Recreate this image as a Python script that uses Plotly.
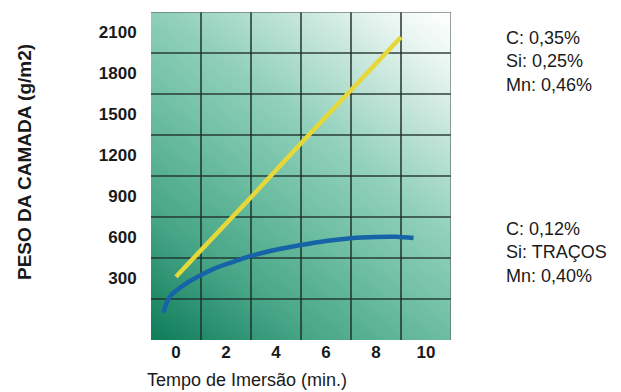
import numpy as np
import plotly.graph_objects as go

# ---- data ----
x_ticks = [0, 2, 4, 6, 8, 10]
y_ticks = [300, 600, 900, 1200, 1500, 1800, 2100]

yellow_t = [0, 1, 3, 5, 7, 9]
yellow_w = [313, 505, 895, 1290, 1680, 2067]

blue_t = [-0.5, -0.25, 0.3, 1.0, 1.6, 2.3, 3.0, 4.0, 5.0, 6.0, 7.0, 8.0, 8.8, 9.5]
blue_w = [50, 165, 250, 325, 378, 422, 465, 510, 545, 575, 595, 604, 605, 596]

label_high = ["C: 0,35%", "Si: 0,25%", "Mn: 0,46%"]
label_low = ["C: 0,12%", "Si: TRAÇOS", "Mn: 0,40%"]

x_title = "Tempo de Imersão (min.)"
y_title = "PESO DA CAMADA (g/m2)"

# ---- axes extents: grid cells centred on the ticks ----
x_step = x_ticks[1] - x_ticks[0]
y_step = y_ticks[1] - y_ticks[0]
x_min, x_max = x_ticks[0] - x_step / 2, x_ticks[-1] + x_step / 2
y_min, y_max = y_ticks[0] - 1.5 * y_step, y_ticks[-1] + y_step / 2

FONT = "Liberation Sans, Arial, sans-serif"

fig = go.Figure()

# background gradient (dark green bottom-left -> white top-right)
gx = np.linspace(x_min, x_max, 25)
gy = np.linspace(y_min, y_max, 25)
U, V = np.meshgrid((gx - x_min) / (x_max - x_min), (gy - y_min) / (y_max - y_min))
Z = 0.42 * U + 0.58 * V
fig.add_trace(go.Heatmap(
    x=gx, y=gy, z=Z, zsmooth="best", showscale=False, hoverinfo="skip",
    zmin=0, zmax=1,
    colorscale=[[0.0, "rgb(14,124,90)"], [0.22, "rgb(70,165,134)"],
                [0.45, "rgb(115,193,166)"], [0.6, "rgb(145,208,188)"],
                [0.78, "rgb(198,230,219)"], [0.9, "rgb(234,246,241)"],
                [1.0, "rgb(255,255,255)"]],
))

# grid lines at cell boundaries
vx = [x_min + x_step * i for i in range(len(x_ticks) + 1)]
hy = [y_min + y_step * i for i in range(len(y_ticks) + 2)]
gxs, gys = [], []
for v in vx[1:-1]:
    gxs += [v, v, None]
    gys += [y_min, y_max, None]
for h in hy[1:-1]:
    gxs += [x_min, x_max, None]
    gys += [h, h, None]
fig.add_trace(go.Scatter(x=gxs, y=gys, mode="lines", hoverinfo="skip",
                         line=dict(color="rgba(30,45,40,0.9)", width=1.6), showlegend=False))
# top and right borders
fig.add_trace(go.Scatter(x=[x_min, x_max, x_max], y=[y_max, y_max, y_min], mode="lines",
                         hoverinfo="skip", line=dict(color="rgba(90,100,100,0.8)", width=1.5),
                         showlegend=False))

# data
fig.add_trace(go.Scatter(x=yellow_t, y=yellow_w, mode="lines",
                         line=dict(color="#e6d838", width=4.5), showlegend=False))
fig.add_trace(go.Scatter(x=blue_t, y=blue_w, mode="lines", line_shape="spline",
                         line=dict(color="#1763a8", width=4.5, smoothing=1.0), showlegend=False))

fig.update_xaxes(range=[x_min, x_max], tickvals=x_ticks, showgrid=False, zeroline=False,
                 showline=False, ticks="", 
                 tickfont=dict(family=FONT, size=17, color="#1a1a1a", weight="bold"))
fig.update_yaxes(range=[y_min, y_max], tickvals=y_ticks, showgrid=False, zeroline=False,
                 showline=False, ticks="outside", ticklen=10, tickcolor="rgba(0,0,0,0)",
                 tickfont=dict(family=FONT, size=17, color="#1a1a1a", weight="bold"))

ann = [
    dict(text=x_title, xref="paper", yref="paper", x=(247 - 151) / 300, y=-(380 - 340) / 328,
         xanchor="center", yanchor="middle", showarrow=False,
         font=dict(family=FONT, size=18, color="#1a1a1a")),
    dict(text=y_title, xref="paper", yref="paper", x=-(151 - 24) / 300, y=(340 - 162) / 328,
         xanchor="center", yanchor="middle", showarrow=False, textangle=-90,
         font=dict(family=FONT, size=19, color="#1a1a1a", weight="bold")),
    dict(text="<br>".join(label_high), xref="paper", yref="paper", x=(504 - 151) / 300,
         y=(340 - 61) / 328, xanchor="left", yanchor="middle", align="left", showarrow=False,
         font=dict(family=FONT, size=18, color="#1a1a1a")),
    dict(text="<br>".join(label_low), xref="paper", yref="paper", x=(504 - 151) / 300,
         y=(340 - 252) / 328, xanchor="left", yanchor="middle", align="left", showarrow=False,
         font=dict(family=FONT, size=18, color="#1a1a1a")),
]

fig.update_layout(
    width=621, height=392,
    margin=dict(l=151, r=170, t=12, b=52),
    paper_bgcolor="white", plot_bgcolor="white",
    annotations=ann, showlegend=False,
)

fig.write_html("out.html", config={"displayModeBar": False},
               post_script="document.body.style.margin='0';document.body.style.padding='0';")
